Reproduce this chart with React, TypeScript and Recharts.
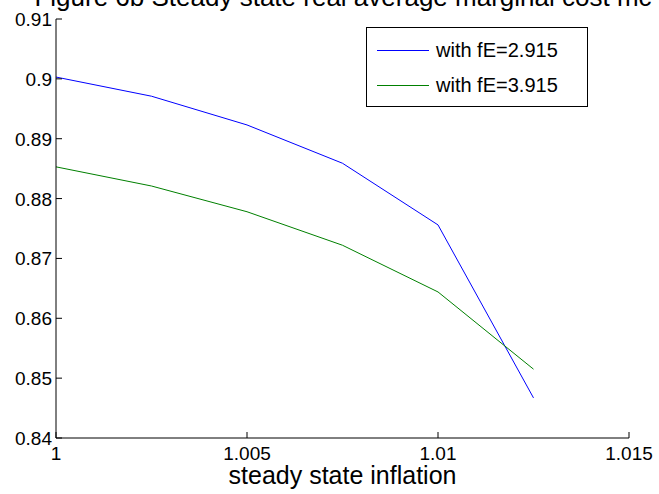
import React from 'react';
import { LineChart, Line, XAxis, YAxis } from 'recharts';

const inflation = [1, 1.0025, 1.005, 1.0075, 1.01, 1.0125];
const mcLowFe = [0.9003, 0.8971, 0.8923, 0.8859, 0.8756, 0.8467];
const mcHighFe = [0.8853, 0.8821, 0.8778, 0.8722, 0.8644, 0.8515];
const xTicks = [1, 1.005, 1.01, 1.015];
const yTicks = [0.84, 0.85, 0.86, 0.87, 0.88, 0.89, 0.9, 0.91];
const seriesNames = ['with fE=2.915', 'with fE=3.915'];
const COLORS = ['#0000ff', '#008000'];

const data = inflation.map((x, i) => ({ x, a: mcLowFe[i], b: mcHighFe[i] }));

const FONT = '"Liberation Sans", Arial, Helvetica, sans-serif';

function fmt(v: number) {
  return String(parseFloat(v.toFixed(4)));
}

// ticks drawn inward, matlab style
const BottomTick = (props: any) => {
  const { x, y, payload } = props;
  return (
    <g>
      <line x1={x} y1={y} x2={x} y2={y - 6} stroke="#000" />
      <text x={x} y={y + 22} textAnchor="middle" fontSize={19} fontFamily={FONT} fill="#000">
        {fmt(payload.value)}
      </text>
    </g>
  );
};

const TopTick = (props: any) => {
  const { x, y } = props;
  return <line x1={x} y1={y} x2={x} y2={y + 6} stroke="#000" />;
};

const LeftTick = (props: any) => {
  const { x, y, payload } = props;
  return (
    <g>
      <line x1={x} y1={y} x2={x + 6} y2={y} stroke="#000" />
      <text x={x - 4} y={y + 7} textAnchor="end" fontSize={19} fontFamily={FONT} fill="#000">
        {fmt(payload.value)}
      </text>
    </g>
  );
};

const RightTick = (props: any) => {
  const { x, y } = props;
  return <line x1={x} y1={y} x2={x - 6} y2={y} stroke="#000" />;
};

export default function App() {
  return (
    <div style={{ position: 'absolute', left: 0, top: 0, width: 659, height: 494, background: '#fff' }}>
      <LineChart width={659} height={494} data={data} margin={{ top: 19, right: 30, bottom: 0, left: 0 }}>
        <XAxis
          dataKey="x"
          type="number"
          domain={[1, 1.015]}
          ticks={xTicks}
          tickSize={0}
          tickMargin={0}
          tick={<BottomTick />}
          height={56}
          stroke="#000"
          interval={0}
        />
        <XAxis
          xAxisId="top"
          orientation="top"
          dataKey="x"
          type="number"
          domain={[1, 1.015]}
          ticks={xTicks}
          tickSize={0}
          tickMargin={0}
          tick={<TopTick />}
          height={0}
          stroke="#000"
          interval={0}
        />
        <YAxis
          type="number"
          domain={[0.84, 0.91]}
          ticks={yTicks}
          tickSize={0}
          tickMargin={0}
          tick={<LeftTick />}
          width={56}
          stroke="#000"
          interval={0}
        />
        <YAxis
          yAxisId="right"
          orientation="right"
          type="number"
          domain={[0.84, 0.91]}
          ticks={yTicks}
          tickSize={0}
          tickMargin={0}
          tick={<RightTick />}
          width={0}
          stroke="#000"
          interval={0}
        />
        <Line type="linear" dataKey="a" name={seriesNames[0]} stroke={COLORS[0]} strokeWidth={1} dot={false} isAnimationActive={false} />
        <Line type="linear" dataKey="b" name={seriesNames[1]} stroke={COLORS[1]} strokeWidth={1} dot={false} isAnimationActive={false} />
        <text x={343} y={6} textAnchor="middle" fontSize={26} fontFamily={FONT} fill="#000">
          Figure 6b Steady state real average marginal cost mc
        </text>
        <text x={342.5} y={484} textAnchor="middle" fontSize={25} fontFamily={FONT} fill="#000">
          steady state inflation
        </text>
      </LineChart>
      <div
        style={{
          position: 'absolute',
          left: 366,
          top: 27,
          width: 220,
          height: 78,
          border: '1px solid #000',
          background: '#fff',
          fontFamily: FONT,
          fontSize: 20,
        }}
      >
        {seriesNames.map((name, i) => (
          <div
            key={name}
            style={{ position: 'absolute', left: 0, top: i === 0 ? 11 : 46, height: 22, display: 'flex', alignItems: 'center' }}
          >
            <div style={{ width: 52, height: 1, background: COLORS[i], marginLeft: 10, marginRight: 7 }} />
            <span style={{ whiteSpace: 'nowrap' }}>{name}</span>
          </div>
        ))}
      </div>
    </div>
  );
}
